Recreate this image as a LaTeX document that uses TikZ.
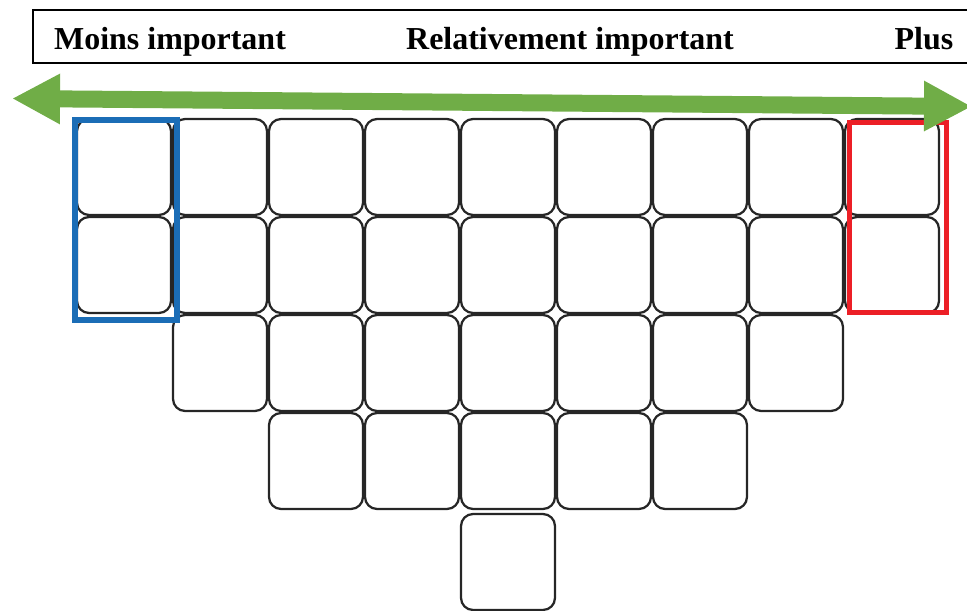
\documentclass[tikz,border=0pt]{standalone}
\usepackage{fontspec}
\setmainfont{Liberation Serif}
\usetikzlibrary{arrows.meta,positioning}
\definecolor{arrowgreen}{HTML}{70AD47}
\definecolor{lowblue}{HTML}{1B6DB6}
\definecolor{highred}{HTML}{EC1F26}

\begin{document}
\begin{tikzpicture}[
    x=0.02cm, y=-0.02cm,
    cell/.style={draw=black!85, line width=0.045cm, rounded corners=0.24cm, minimum width=1.88cm, minimum height=1.92cm, inner sep=0pt},
    label/.style={font=\fontsize{18.2}{21}\selectfont\bfseries, anchor=base, inner sep=0pt},
    frame/.style={line width=0.11cm, minimum width=#1, inner sep=0pt},
]
\useasboundingbox (0,0) rectangle (967,611);
% header
\draw[line width=0.04cm] (33,10) rectangle (1000,63);
\node[label] (less) at (170,50) {Moins important};
\node[label] (mid)  at (570,50) {Relativement important};
\node[label] (more) at (924,50) {Plus};
% cells
\foreach \r/\cfirst/\clast in {0/0/8, 1/0/8, 2/1/7, 3/2/6} {
  \foreach \c in {\cfirst,...,\clast} {
    \node[cell] (c-\r-\c) at ({124+96*\c},{167+98*\r}) {};
  }
}
\node[cell] (c-4-4) at (508,562) {};
% highlighted columns
\node[frame=2.04cm, draw=lowblue, minimum height=4cm] (lowframe) at (126,220) {};
\node[frame=1.94cm, draw=highred, line width=0.1cm, minimum height=3.82cm] (highframe) at (897.5,217.5) {};
% scale arrow
\coordinate (lefttip) at (12,98.5);
\coordinate (righttip) at (972,106.5);
\draw[arrowgreen, line width=0.34cm, {Triangle[length=0.96cm, width=0.94cm]}-{Triangle[length=0.96cm, width=0.94cm]}] (lefttip) -- (righttip);
\end{tikzpicture}
\end{document}
